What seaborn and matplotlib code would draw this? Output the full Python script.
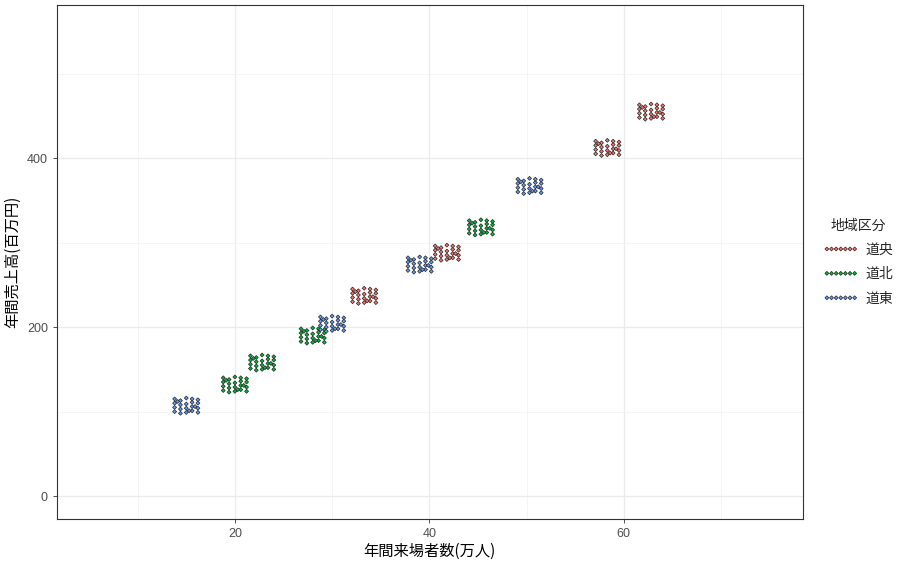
import numpy as np
import pandas as pd
import seaborn as sns
import matplotlib.pyplot as plt
from matplotlib.ticker import MultipleLocator

# cluster centres
visitors = [15.0, 20.0, 22.8, 28.0, 30.0, 33.3, 39.0, 41.8, 45.3, 50.3, 58.3, 62.8]
sales = [107, 132, 158, 190, 204, 237, 274, 288, 318, 367, 412, 455]
region = ['道東', '道北', '道北', '道北', '道東', '道央', '道東', '道央', '道北', '道東', '道央', '道央']

# spread of the small points inside one cluster
dx = [-1.2, -1.2, -1.2, -1.2, -0.6, -0.6, -0.6, -0.6, 0.0, 0.0, 0.0, 0.0,
      0.6, 0.6, 0.6, 0.6, 1.2, 1.2, 1.2, 1.2, -0.9, 0.3, 0.9]
dy = [-7, -2, 3, 8, -9, -4, 1, 6, -8, -3, 2, 9,
      -6, -1, 4, 8, -8, -3, 3, 7, 5, -6, -1]

region_order = ['道央', '道北', '道東']
colors = ['#F8766D', '#00BA38', '#619CFF']

rows = []
for cx, cy, r in zip(visitors, sales, region):
    for ox, oy in zip(dx, dy):
        rows.append((cx + ox, cy + oy, r))
df = pd.DataFrame(rows, columns=['来場者', '売上', '地域区分'])

sns.set_theme(style='white')
plt.rcParams['font.family'] = ['Noto Sans CJK JP', 'DejaVu Sans']

fig = plt.figure(figsize=(9.04, 5.69), dpi=100)
ax = fig.add_axes([0.063, 0.088, 0.825, 0.903])

sns.scatterplot(data=df, x='来場者', y='売上', hue='地域区分', hue_order=region_order,
                palette=colors, marker='D', s=4, edgecolor='#222222', linewidth=0.5,
                legend=False, ax=ax, zorder=3)

ax.set_xlim(1.7, 78.4)
ax.set_ylim(-27, 581)
ax.xaxis.set_major_locator(MultipleLocator(20))
ax.xaxis.set_minor_locator(MultipleLocator(10))
ax.yaxis.set_major_locator(MultipleLocator(200))
ax.yaxis.set_minor_locator(MultipleLocator(100))
ax.grid(True, which='major', color='#EBEBEB', linewidth=0.9)
ax.grid(True, which='minor', color='#F2F2F2', linewidth=0.5)
ax.set_axisbelow(True)
for s in ax.spines.values():
    s.set_color('#333333')
    s.set_linewidth(0.8)
ax.tick_params(axis='both', which='major', length=3, width=0.6, color='#333333',
               labelsize=9, labelcolor='#4D4D4D', bottom=True, left=True)
ax.tick_params(axis='both', which='minor', length=0)
for lab in ax.get_xticklabels() + ax.get_yticklabels():
    lab.set_family('Liberation Sans')
ax.set_xlabel('年間来場者数(万人)', fontsize=11, color='black', labelpad=2)
ax.set_ylabel('年間売上高(百万円)', fontsize=11, color='black', labelpad=4)

handles = [ax.scatter([], [], marker='D', s=4, color=c, edgecolor='#222222', linewidth=0.5)
           for c in colors]
leg = ax.legend(handles, region_order, title='地域区分', loc='center left',
                bbox_to_anchor=(1.01, 0.5), frameon=False, scatterpoints=7,
                fontsize=10, title_fontsize=10, handlelength=2.6, handletextpad=0.5,
                labelspacing=0.75, scatteryoffsets=[0.5])

fig.savefig('out.png', dpi=100)
